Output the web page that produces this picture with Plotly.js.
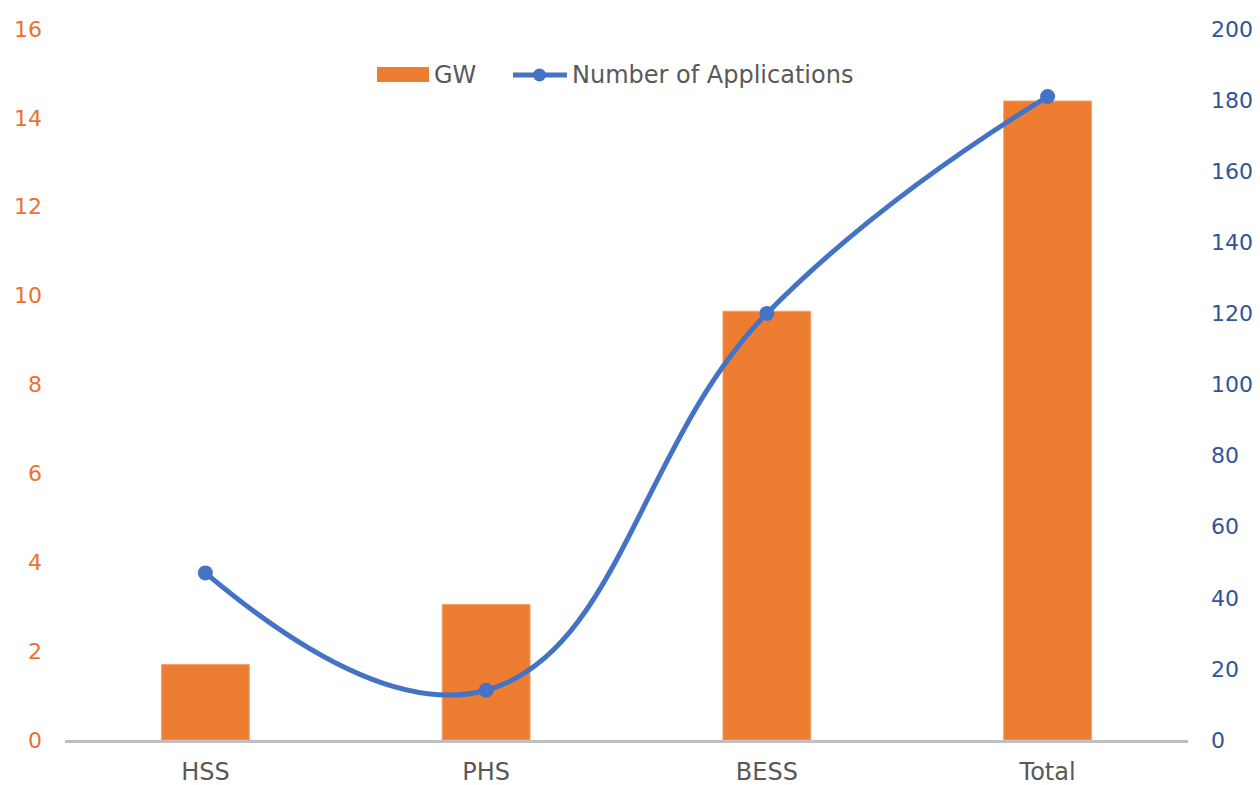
<!DOCTYPE html>
<html>
<head>
<meta charset="utf-8">
<script src="https://cdn.plot.ly/plotly-3.0.1.min.js"></script>
<style>html,body{margin:0;padding:0;background:#fff;}#chart{width:1260px;height:785px;}</style>
</head>
<body>
<div id="chart"></div>
<script>
const categories = ["HSS", "PHS", "BESS", "Total"];
const gwValues = [1.7, 3.05, 9.65, 14.38];
const applications = [47, 14, 120, 181];
const leftTicks = [0, 2, 4, 6, 8, 10, 12, 14, 16];
const rightTicks = [0, 20, 40, 60, 80, 100, 120, 140, 160, 180, 200];
const seriesNames = ["GW", "Number of Applications"];

const font = "DejaVu Sans, Verdana, sans-serif";
const orange = "#ED7D31";
const blue = "#4472C4";

// plot area in pixels
const L = 65, R = 1188, T = 29, B = 740;
const px = p => (p - L) / (R - L);
const py = p => (B - p) / (B - T);

const traces = [
  {
    type: "bar",
    name: seriesNames[0],
    x: categories,
    y: gwValues,
    yaxis: "y",
    marker: {color: orange, line: {color: "#F3A36F", width: 1}},
    width: 0.313
  },
  {
    type: "scatter",
    mode: "lines+markers",
    name: seriesNames[1],
    x: categories,
    y: applications,
    yaxis: "y2",
    line: {color: blue, width: 5, shape: "spline", smoothing: 1.25},
    marker: {color: blue, size: 15}
  }
];

const legendY = 75;
const shapes = [
  {type: "rect", xref: "paper", yref: "paper",
   x0: px(377), x1: px(429), y0: py(82), y1: py(67),
   fillcolor: orange, line: {width: 0}},
  {type: "line", xref: "paper", yref: "paper",
   x0: px(513), x1: px(567), y0: py(legendY), y1: py(legendY),
   line: {color: blue, width: 5}},
  {type: "circle", xref: "paper", yref: "paper",
   x0: px(533), x1: px(546), y0: py(81.5), y1: py(68.5),
   fillcolor: blue, line: {width: 0}}
];
const annotations = [
  {xref: "paper", yref: "paper", x: px(432), y: py(legendY), xanchor: "left", yanchor: "middle",
   text: seriesNames[0], showarrow: false, font: {family: font, size: 24, color: "#595959"}},
  {xref: "paper", yref: "paper", x: px(570), y: py(legendY), xanchor: "left", yanchor: "middle",
   text: seriesNames[1], showarrow: false, font: {family: font, size: 24, color: "#595959"}}
];

const layout = {
  width: 1260,
  height: 785,
  margin: {l: L, r: 1260 - R, t: T, b: 785 - B},
  paper_bgcolor: "#fff",
  plot_bgcolor: "#fff",
  font: {family: font, size: 22, color: "#595959"},
  showlegend: false,
  shapes: shapes,
  annotations: annotations,
  xaxis: {
    type: "category",
    showgrid: false,
    zeroline: false,
    showline: true,
    linecolor: "#BFBFBF",
    linewidth: 3,
    ticks: "",
    ticklabelstandoff: 8,
    tickfont: {family: font, size: 24, color: "#595959"}
  },
  yaxis: {
    range: [0, 16],
    tickvals: leftTicks,
    showgrid: false,
    zeroline: false,
    showline: false,
    ticks: "",
    ticklabelstandoff: 22,
    tickfont: {family: font, size: 22, color: "#E97132"}
  },
  yaxis2: {
    range: [0, 200],
    tickvals: rightTicks,
    overlaying: "y",
    side: "right",
    showgrid: false,
    zeroline: false,
    showline: false,
    ticks: "",
    ticklabelstandoff: 22,
    tickfont: {family: font, size: 22, color: "#2F5597"}
  }
};

Plotly.newPlot("chart", traces, layout, {displayModeBar: false, staticPlot: true});
</script>
</body>
</html>
